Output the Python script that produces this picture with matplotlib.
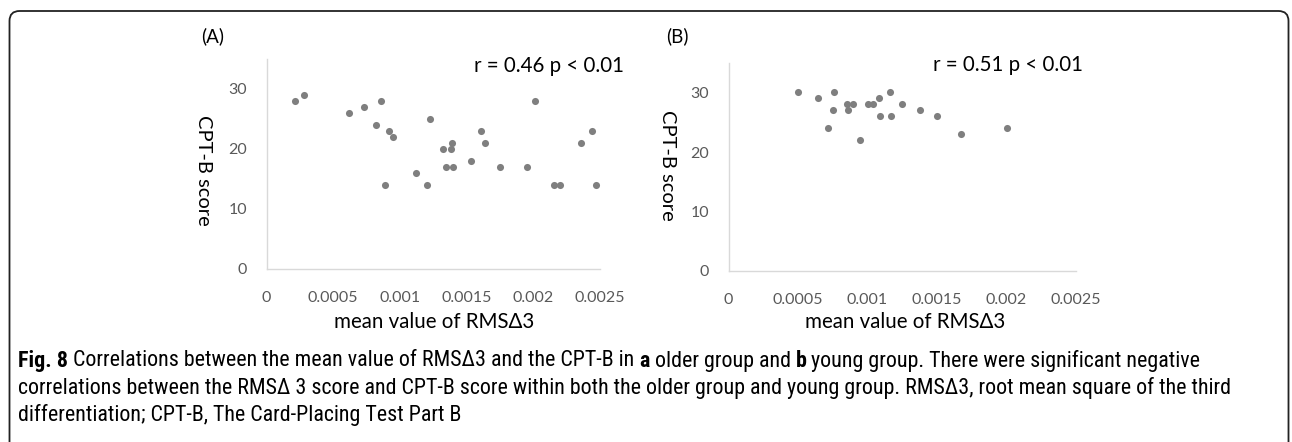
import matplotlib
matplotlib.use("Agg")
import matplotlib.pyplot as plt
from matplotlib.patches import FancyBboxPatch

# older group (A)
older_x = [0.000214, 0.000282, 0.000622, 0.000734, 0.000857, 0.00082, 0.00092,
           0.000947, 0.00089, 0.001227, 0.001322, 0.001382, 0.001395, 0.001345,
           0.001397, 0.001125, 0.001207, 0.001535, 0.001613, 0.001643, 0.001755,
           0.001958, 0.002013, 0.00216, 0.002203, 0.002359, 0.002446, 0.002476]
older_y = [28, 29, 26, 27, 28, 24, 23, 22, 14, 25, 20, 20, 21, 17, 17, 16, 14,
           18, 23, 21, 17, 17, 28, 14, 14, 21, 23, 14]

# young group (B)
young_x = [0.000502, 0.000646, 0.000759, 0.000754, 0.000718, 0.000855, 0.000893,
           0.00086, 0.000946, 0.001004, 0.001037, 0.00108, 0.001092, 0.001164,
           0.001169, 0.001246, 0.001378, 0.001502, 0.00167, 0.002001]
young_y = [30, 29, 30, 27, 24, 28, 28, 27, 22, 28, 28, 29, 26, 30, 26, 28, 27,
           26, 23, 24]

x_ticks = [0, 0.0005, 0.001, 0.0015, 0.002, 0.0025]
x_ticklabels = ["0", "0.0005", "0.001", "0.0015", "0.002", "0.0025"]
y_ticks = [0, 10, 20, 30]

panels = ["(A)", "(B)"]
stats = ["r = 0.46 p < 0.01", "r = 0.51 p < 0.01"]
xlabel = "mean value of RMS\u03943"
ylabel = "CPT-B score"

caption_lines = [
    [("Fig. 8", "bold"),
     (" Correlations between the mean value of RMS\u03943 and the CPT-B in ", "normal"),
     ("a", "bold"), (" older group and ", "normal"), ("b", "bold"),
     (" young group. There were significant negative", "normal")],
    [("correlations between the RMS\u0394 3 score and CPT-B score within both the "
      "older group and young group. RMS\u03943, root mean square of the third", "normal")],
    [("differentiation; CPT-B, The Card-Placing Test Part B", "normal")],
]

W, H = 1292, 442
fig = plt.figure(figsize=(W / 100, H / 100), dpi=100)
chart_font = ["Lato", "DejaVu Sans"]
cap_font = ["Liberation Sans Narrow", "Roboto Condensed", "DejaVu Sans Condensed",
            "Roboto", "DejaVu Sans"]

# rounded frame round the figure panel (inches from bottom-left)
frame = FancyBboxPatch((0.095, -0.5), 12.79, 4.81,
                       boxstyle="round,pad=0,rounding_size=0.1",
                       transform=fig.dpi_scale_trans, fill=False,
                       edgecolor="#222222", linewidth=1.3)
fig.add_artist(frame)

# axes boxes in pixels: left, right, y of 0, y of 35
boxes = [(266.5, 599.5, 269, 59), (728.5, 1076, 271, 62.75)]
datasets = [(older_x, older_y), (young_x, young_y)]
panel_pos = [(213, 36), (677, 36)]
stat_pos = [(474, 66), (933, 65)]
ylab_pos = [(203, 170), (667, 165)]
xlab_pos = [(434, 322), (905, 322)]

for i, (l, r, b, t) in enumerate(boxes):
    ax = fig.add_axes([l / W, 1 - b / H, (r - l) / W, (b - t) / H])
    xs, ys = datasets[i]
    ax.scatter(xs, ys, s=26, color="#7f7f7f", zorder=3, linewidths=0)
    ax.set_xlim(0, 0.0025)
    ax.set_ylim(0, 35)
    ax.set_xticks(x_ticks)
    ax.set_xticklabels(x_ticklabels)
    ax.set_yticks(y_ticks)
    for sp in ["top", "right"]:
        ax.spines[sp].set_visible(False)
    for sp in ["left", "bottom"]:
        ax.spines[sp].set_color("#d9d9d9")
        ax.spines[sp].set_linewidth(1.0)
    ax.tick_params(length=0, colors="#595959", labelsize=11.5)
    ax.tick_params(axis="x", pad=16)
    ax.tick_params(axis="y", pad=14)
    for lab in ax.get_xticklabels() + ax.get_yticklabels():
        lab.set_family(chart_font)
    ax.set_facecolor("none")

    fig.text(panel_pos[i][0] / W, 1 - panel_pos[i][1] / H, panels[i],
             ha="center", va="center", fontsize=13.5, family=chart_font)
    fig.text(stat_pos[i][0] / W, 1 - stat_pos[i][1] / H, stats[i],
             ha="left", va="center", fontsize=14.8, family=chart_font)
    fig.text(ylab_pos[i][0] / W, 1 - ylab_pos[i][1] / H, ylabel, rotation=270,
             ha="center", va="center", fontsize=14.5, family=chart_font)
    fig.text(xlab_pos[i][0] / W, 1 - xlab_pos[i][1] / H, xlabel,
             ha="center", va="center", fontsize=14.8, family=chart_font)

# caption: size picked so lines 1 and 2 together span about the reference widths
renderer = fig.canvas.get_renderer()
probe_w = 0
for line in caption_lines[:2]:
    for txt, wt in line:
        p = fig.text(0, 0, txt, fontsize=10, weight=wt, family=cap_font)
        probe_w += p.get_window_extent(renderer).width
        p.remove()
cap_size = 10 * ((1148 - 18) + (1275 - 18)) / probe_w

cap_y = [361, 388, 415]
for line, y in zip(caption_lines, cap_y):
    x = 18
    for txt, wt in line:
        t = fig.text(x / W, 1 - y / H, txt, ha="left", va="center",
                     fontsize=cap_size, weight=wt, family=cap_font)
        x += t.get_window_extent(renderer).width

fig.savefig("out.png", dpi=100)
